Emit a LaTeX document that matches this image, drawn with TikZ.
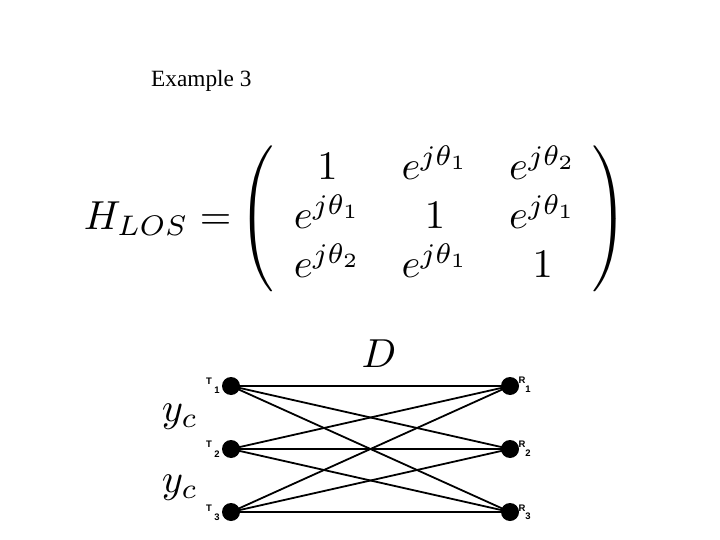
\documentclass[tikz,border=0pt]{standalone}
\usepackage{fontspec}
\newfontfamily\labfont{Liberation Sans}
\newfontfamily\titfont{Liberation Serif}
\begin{document}
\begin{tikzpicture}[x=1pt,y=-1pt,
  dot/.style={circle,fill=black,inner sep=0pt,minimum size=18pt},
  lab/.style={font=\labfont\bfseries\fontsize{9.5}{10}\selectfont,inner sep=0pt},
  bigmath/.style={font=\fontsize{10}{12}\selectfont,inner sep=0pt,scale=4.05},
  link/.style={line width=1.8pt}]
\useasboundingbox (0,0) rectangle (720,540);
\node[anchor=base west,inner sep=0pt,font=\titfont\fontsize{23.3}{26}\selectfont] (title) at (151,87) {Example 3};
\node[bigmath,anchor=west] (eq) at (83,219) {$H_{LOS} =\mkern-2mu \left(\begin{array}{ccc}
1 & e^{j\theta_1} & e^{j\theta_2}\\
e^{j\theta_1} & 1 & e^{j\theta_1}\\
e^{j\theta_2} & e^{j\theta_1} & 1
\end{array}\mkern-2mu\right)$};
\node[bigmath,anchor=base] (D) at (379,367) {$D$};
\node[bigmath,anchor=base] (yc1) at (180,421) {$y_c$};
\node[bigmath,anchor=base] (yc2) at (180,492) {$y_c$};
\node[dot] (t1) at (231,386) {};
\node[dot] (t2) at (231,449) {};
\node[dot] (t3) at (231,512) {};
\node[dot] (r1) at (510,386) {};
\node[dot] (r2) at (510,449) {};
\node[dot] (r3) at (510,512) {};
\foreach \i in {1,2,3}{
  \foreach \j in {1,2,3}{
    \draw[link] (t\i.center) -- (r\j.center);
  }
}
\node[lab] (tl1) at (209,381) {T};
\node[lab] (ts1) at (217,390) {1};
\node[lab] (tl2) at (209,444) {T};
\node[lab] (ts2) at (217,454) {2};
\node[lab] (tl3) at (209,508) {T};
\node[lab] (ts3) at (217,517) {3};
\node[lab] (rl1) at (522,380) {R};
\node[lab] (rs1) at (528,389) {1};
\node[lab] (rl2) at (522,444) {R};
\node[lab] (rs2) at (528,453) {2};
\node[lab] (rl3) at (522,508) {R};
\node[lab] (rs3) at (528,516) {3};
\end{tikzpicture}
\end{document}
